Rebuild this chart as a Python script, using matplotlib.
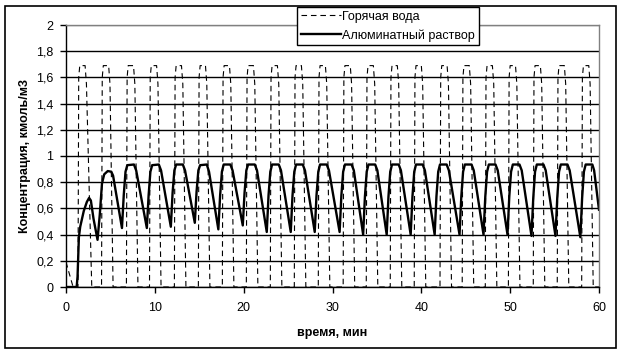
import matplotlib.pyplot as plt
from matplotlib.patches import Rectangle

plt.rcParams['font.family'] = ['Liberation Sans', 'DejaVu Sans']

# ==========================================
# Данные
# ==========================================
# Горячая вода: импульсы подачи
water_t = [0.0, 0.8,
           1.35, 1.43, 1.55, 2.15, 2.3, 2.9,
           4.0, 4.08, 4.2, 4.8, 4.95, 5.3,
           6.8, 6.88, 7.0, 7.6, 7.75, 8.1,
           9.4, 9.48, 9.6, 10.2, 10.35, 10.7,
           12.2, 12.28, 12.4, 13.0, 13.15, 13.5,
           14.9, 14.98, 15.1, 15.7, 15.85, 16.2,
           17.6, 17.68, 17.8, 18.4, 18.55, 18.9,
           20.3, 20.38, 20.5, 21.1, 21.25, 21.6,
           23.0, 23.08, 23.2, 23.8, 23.95, 24.3,
           25.7, 25.78, 25.9, 26.5, 26.65, 27.0,
           28.4, 28.48, 28.6, 29.2, 29.35, 29.7,
           31.2, 31.28, 31.4, 32.0, 32.15, 32.5,
           33.8, 33.88, 34.0, 34.6, 34.75, 35.1,
           36.5, 36.58, 36.7, 37.3, 37.45, 37.8,
           39.2, 39.28, 39.4, 40.0, 40.15, 40.5,
           42.1, 42.18, 42.3, 42.9, 43.05, 43.4,
           44.6, 44.68, 44.8, 45.4, 45.55, 45.9,
           47.2, 47.28, 47.4, 48.0, 48.15, 48.5,
           49.8, 49.88, 50.0, 50.6, 50.75, 51.1,
           52.6, 52.68, 52.8, 53.4, 53.55, 53.9,
           55.3, 55.38, 55.5, 56.1, 56.25, 56.6,
           58.05, 58.13, 58.25, 58.85, 59.0, 59.35,
           60.0]
water_c = [0.19, 0.0,
           0.0, 1.6, 1.69, 1.69, 1.55, 0.0,
           0.0, 1.6, 1.69, 1.69, 1.55, 0.0,
           0.0, 1.6, 1.69, 1.69, 1.55, 0.0,
           0.0, 1.6, 1.69, 1.69, 1.55, 0.0,
           0.0, 1.6, 1.69, 1.69, 1.55, 0.0,
           0.0, 1.6, 1.69, 1.69, 1.55, 0.0,
           0.0, 1.6, 1.69, 1.69, 1.55, 0.0,
           0.0, 1.6, 1.69, 1.69, 1.55, 0.0,
           0.0, 1.6, 1.69, 1.69, 1.55, 0.0,
           0.0, 1.6, 1.69, 1.69, 1.55, 0.0,
           0.0, 1.6, 1.69, 1.69, 1.55, 0.0,
           0.0, 1.6, 1.69, 1.69, 1.55, 0.0,
           0.0, 1.6, 1.69, 1.69, 1.55, 0.0,
           0.0, 1.6, 1.69, 1.69, 1.55, 0.0,
           0.0, 1.6, 1.69, 1.69, 1.55, 0.0,
           0.0, 1.6, 1.69, 1.69, 1.55, 0.0,
           0.0, 1.6, 1.69, 1.69, 1.55, 0.0,
           0.0, 1.6, 1.69, 1.69, 1.55, 0.0,
           0.0, 1.6, 1.69, 1.69, 1.55, 0.0,
           0.0, 1.6, 1.69, 1.69, 1.55, 0.0,
           0.0, 1.6, 1.69, 1.69, 1.55, 0.0,
           0.0, 1.6, 1.69, 1.69, 1.55, 0.0,
           0.0]

# Алюминатный раствор: концентрация
alu_t = [0.0, 1.2, 1.3, 1.45, 1.6, 2.0, 2.35, 2.6, 2.8, 3.1,
         3.55, 3.8, 4.05, 4.3, 4.7, 5.1, 5.3,
         6.3, 6.5, 6.7, 6.9, 7.65, 7.9,
         9.1, 9.3, 9.5, 9.7, 10.45, 10.7,
         11.8, 12.0, 12.2, 12.4, 13.15, 13.4,
         14.5, 14.7, 14.9, 15.1, 15.85, 16.1,
         17.15, 17.35, 17.55, 17.75, 18.5, 18.75,
         19.9, 20.1, 20.3, 20.5, 21.25, 21.5,
         22.6, 22.8, 23.0, 23.2, 23.95, 24.2,
         25.3, 25.5, 25.7, 25.9, 26.65, 26.9,
         28.0, 28.2, 28.4, 28.6, 29.35, 29.6,
         30.8, 31.0, 31.2, 31.4, 32.15, 32.4,
         33.45, 33.65, 33.85, 34.05, 34.8, 35.05,
         36.1, 36.3, 36.5, 36.7, 37.45, 37.7,
         38.8, 39.0, 39.2, 39.4, 40.15, 40.4,
         41.5, 41.7, 41.9, 42.1, 42.85, 43.1,
         44.3, 44.5, 44.7, 44.9, 45.65, 45.9,
         47.0, 47.2, 47.4, 47.6, 48.35, 48.6,
         49.7, 49.9, 50.1, 50.3, 51.05, 51.3,
         52.4, 52.6, 52.8, 53.0, 53.75, 54.0,
         55.1, 55.3, 55.5, 55.7, 56.45, 56.7,
         57.9, 58.1, 58.3, 58.5, 59.25, 59.45,
         60.0]
alu_c = [0.0, 0.0, 0.08, 0.38, 0.46, 0.58, 0.65, 0.68, 0.66, 0.52,
         0.36, 0.55, 0.79, 0.86, 0.885, 0.88, 0.85,
         0.45, 0.70, 0.88, 0.93, 0.935, 0.89,
         0.45, 0.70, 0.88, 0.93, 0.935, 0.89,
         0.46, 0.72, 0.89, 0.935, 0.935, 0.89,
         0.49, 0.73, 0.89, 0.93, 0.935, 0.88,
         0.44, 0.70, 0.88, 0.935, 0.935, 0.89,
         0.47, 0.72, 0.89, 0.935, 0.935, 0.89,
         0.42, 0.70, 0.88, 0.935, 0.935, 0.89,
         0.42, 0.70, 0.88, 0.935, 0.935, 0.89,
         0.42, 0.70, 0.88, 0.935, 0.935, 0.89,
         0.42, 0.70, 0.88, 0.935, 0.935, 0.89,
         0.40, 0.69, 0.88, 0.935, 0.935, 0.89,
         0.40, 0.69, 0.88, 0.935, 0.935, 0.89,
         0.40, 0.69, 0.88, 0.935, 0.935, 0.89,
         0.40, 0.69, 0.88, 0.935, 0.935, 0.89,
         0.40, 0.69, 0.88, 0.935, 0.935, 0.89,
         0.40, 0.69, 0.88, 0.935, 0.935, 0.89,
         0.40, 0.69, 0.88, 0.935, 0.935, 0.89,
         0.39, 0.68, 0.88, 0.935, 0.935, 0.89,
         0.39, 0.68, 0.88, 0.935, 0.935, 0.89,
         0.38, 0.68, 0.88, 0.935, 0.935, 0.89,
         0.59]

x_ticks = [0, 10, 20, 30, 40, 50, 60]
y_ticks = [0, 0.2, 0.4, 0.6, 0.8, 1.0, 1.2, 1.4, 1.6, 1.8, 2.0]
y_labels = ['0', '0,2', '0,4', '0,6', '0,8', '1', '1,2', '1,4', '1,6', '1,8', '2']

# ==========================================
# Построение
# ==========================================
W, H = 623, 355
fig = plt.figure(figsize=(W / 100, H / 100), dpi=100)
ax = fig.add_axes([66 / W, 1 - 287 / H, 533 / W, 262 / H])

ax.plot(water_t, water_c, color='black', lw=0.8, ls=(0, (5, 3.5)),
        label='Горячая вода')
ax.plot(alu_t, alu_c, color='black', lw=1.7, solid_joinstyle='round',
        label='Алюминатный раствор')

ax.set_xlim(0, 60)
ax.set_ylim(0, 2)
ax.set_xticks(x_ticks)
ax.set_yticks(y_ticks)
ax.set_yticklabels(y_labels)
ax.tick_params(direction='out', length=4, width=1, colors='black',
               labelsize=9, pad=5)
ax.tick_params(axis='x', pad=7)

ax.grid(axis='y', color='black', lw=1)
ax.get_ygridlines()[-1].set_color('#808080')
ax.set_axisbelow(True)

for side in ['top', 'right']:
    ax.spines[side].set_color('#808080')
    ax.spines[side].set_linewidth(1)
for side in ['left', 'bottom']:
    ax.spines[side].set_color('black')
    ax.spines[side].set_linewidth(1)

ax.set_xlabel('время, мин', fontsize=9, fontweight='bold', labelpad=9)
ax.set_ylabel('Концентрация, кмоль/м3', fontsize=9, fontweight='bold', labelpad=4)

leg = fig.legend(loc='upper left', bbox_to_anchor=(297 / W, 1 - 7 / H),
                 frameon=True, fancybox=False, edgecolor='black', framealpha=1,
                 handlelength=3.2, handletextpad=0.1, borderpad=0.3,
                 labelspacing=0.5, fontsize=9, borderaxespad=0)
leg.get_frame().set_linewidth(1)

# внешняя рамка диаграммы
fig.add_artist(Rectangle((5 / W, 1 - 348 / H), 611 / W, 342 / H,
                         transform=fig.transFigure, fill=False,
                         edgecolor='black', lw=1.2))

fig.savefig('out.png', dpi=100)
